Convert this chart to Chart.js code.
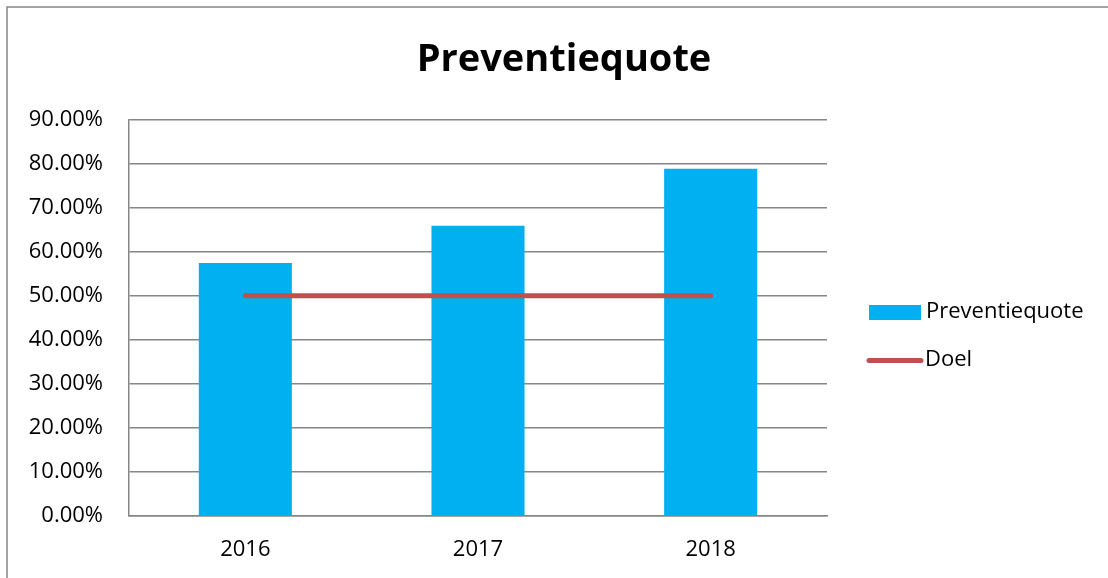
<!DOCTYPE html>
<html>
<head>
<meta charset="utf-8">
<script src="https://cdn.jsdelivr.net/npm/chart.js@4"></script>
<style>
  html, body { margin: 0; padding: 0; background: #fff; }
  #wrap { width: 1108px; height: 578px; }
</style>
</head>
<body>
<div id="wrap"><canvas id="graph" width="1108" height="578"></canvas></div>
<script>
const years = ['2016', '2017', '2018'];
const quote = [57.4, 65.9, 78.8];   // Preventiequote in %
const doel = [50, 50, 50];          // Doel in %
const yTicks = [0, 10, 20, 30, 40, 50, 60, 70, 80, 90];

const FONT = "'Open Sans', 'Noto Sans', sans-serif";

// border, title and legend drawn like the Excel original
const decor = {
    id: 'decor',
    beforeDraw(chart) {
        const c = chart.ctx;
        c.save();
        c.strokeStyle = '#868686';
        c.lineWidth = 1.5;
        c.beginPath();
        c.moveTo(7, 578);
        c.lineTo(7, 7);
        c.lineTo(1108, 7);
        c.stroke();
        c.restore();
    },
    afterDraw(chart) {
        const c = chart.ctx;
        c.save();
        c.fillStyle = '#000';
        c.font = 'bold 38px ' + FONT;
        c.textAlign = 'center';
        c.textBaseline = 'alphabetic';
        c.fillText('Preventiequote', 564, 71);

        const bar = chart.data.datasets.find(d => d.type === 'bar');
        const line = chart.data.datasets.find(d => d.type === 'line');
        c.font = '22px ' + FONT;
        c.textAlign = 'left';
        c.textBaseline = 'middle';
        // bar item
        c.fillStyle = bar.backgroundColor;
        c.fillRect(869, 305, 52, 15);
        c.fillStyle = '#000';
        c.fillText(bar.label, 926, 312);
        // line item
        c.strokeStyle = line.borderColor;
        c.lineWidth = 5;
        c.lineCap = 'round';
        c.beginPath();
        c.moveTo(869, 360.5);
        c.lineTo(921, 360.5);
        c.stroke();
        c.fillStyle = '#000';
        c.fillText(line.label, 925, 360);
        c.restore();
    }
};

new Chart(document.getElementById('graph').getContext('2d'), {
    data: {
        labels: years,
        datasets: [{
            type: 'line',
            label: 'Doel',
            data: doel,
            borderColor: '#C0504D',
            borderWidth: 5,
            borderCapStyle: 'round',
            pointRadius: 0,
            fill: false,
            order: 0
        }, {
            type: 'bar',
            label: 'Preventiequote',
            data: quote,
            backgroundColor: '#00B0F0',
            categoryPercentage: 1,
            barPercentage: 0.4,
            order: 1
        }]
    },
    options: {
        responsive: false,
        animation: false,
        layout: { padding: { top: 119.5, right: 281, left: 0, bottom: 0 } },
        plugins: {
            legend: { display: false },
            title: { display: false },
            tooltip: { enabled: false }
        },
        scales: {
            x: {
                grid: { display: false, drawTicks: false },
                border: { color: '#868686', width: 1.5 },
                ticks: { color: '#000', font: { family: FONT, size: 22 }, padding: 21 },
                afterFit(scale) { scale.height = 62; }
            },
            y: {
                min: 0,
                max: 90,
                afterBuildTicks(scale) { scale.ticks = yTicks.map(v => ({ value: v })); },
                grid: { color: '#868686', lineWidth: 1.5, drawTicks: false },
                border: { color: '#868686', width: 1.5 },
                ticks: {
                    color: '#000',
                    padding: 26,
                    font: { family: FONT, size: 22 },
                    callback: v => v.toFixed(2) + '%'
                },
                afterFit(scale) { scale.width = 129; }
            }
        }
    },
    plugins: [decor]
});
</script>
</body>
</html>
